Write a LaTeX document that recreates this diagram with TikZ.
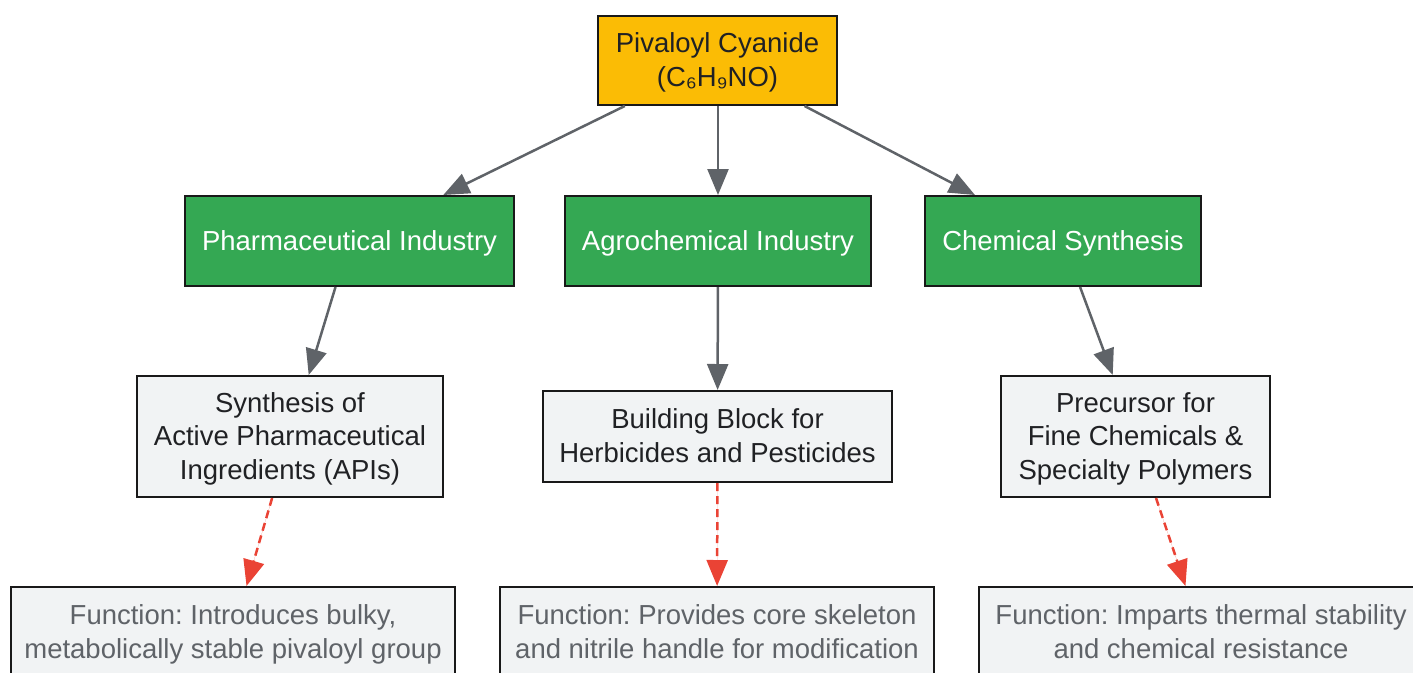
\documentclass[tikz,border=0pt]{standalone}
\usepackage{fontspec}
\setmainfont{Liberation Sans}
\frenchspacing
\usetikzlibrary{arrows.meta}
\definecolor{topfill}{HTML}{FBBC05}
\definecolor{greenfill}{HTML}{34A853}
\definecolor{grayfill}{HTML}{F1F3F4}
\definecolor{darktext}{HTML}{202124}
\definecolor{graytext}{HTML}{5F6368}
\definecolor{edgegray}{HTML}{5F6368}
\definecolor{edgered}{HTML}{EA4335}
\tikzset{
  box/.style={draw=black!90, line width=2pt, inner sep=0pt},
  lbl/.style={align=center, inner sep=0pt, yshift=-2.5pt,
    font=\frenchspacing\fontsize{27.5}{33.5}\selectfont},
  topbox/.style={box, fill=topfill, label={[lbl, text=darktext]center:{\strut#1\strut}}},
  greenbox/.style={box, fill=greenfill, label={[lbl, text=white]center:{\strut#1\strut}}},
  graybox/.style={box, fill=grayfill, label={[lbl, text=darktext]center:{\strut#1\strut}}},
  funcbox/.style={box, fill=grayfill, label={[lbl, text=graytext]center:{\strut#1\strut}}},
  solidedge/.style={draw=edgegray, line width=2.5pt, -{Triangle[length=26pt,width=21pt]}, fill=edgegray},
  dashedge/.style={draw=edgered, line width=2.5pt, dash pattern=on 8pt off 5pt, -{Triangle[length=26pt,width=21pt]}, fill=edgered},
}
\begin{document}
\begin{tikzpicture}[x=1pt,y=-1pt]
\path[use as bounding box] (0,0) rectangle (1413,672);
\clip (0,0) rectangle (1413,672);
\node[topbox={Pivaloyl Cyanide\\(C₆H₉NO)}, minimum width=239pt, minimum height=89pt] (top) at (717.5,60.5) {};
\node[greenbox={Pharmaceutical Industry}, minimum width=329pt, minimum height=90pt] (pharm) at (349.5,241) {};
\node[greenbox={Agrochemical Industry}, minimum width=306pt, minimum height=90pt] (agro) at (718,241) {};
\node[greenbox={Chemical Synthesis}, minimum width=276pt, minimum height=90pt] (chem) at (1063,241) {};
\node[graybox={Synthesis of\\Active Pharmaceutical\\Ingredients (APIs)}, minimum width=306pt, minimum height=121pt] (api) at (290,436.5) {};
\node[graybox={Building Block for\\Herbicides and Pesticides}, minimum width=349pt, minimum height=91pt] (block) at (717.5,436.5) {};
\node[graybox={Precursor for\\Fine Chemicals \&\\Specialty Polymers}, minimum width=269pt, minimum height=121pt] (prec) at (1135.5,436.5) {};
\node[funcbox={Function: Introduces bulky,\\metabolically stable pivaloyl group}, minimum width=444pt, minimum height=91pt] (f1) at (233,632.5) {};
\node[funcbox={Function: Provides core skeleton\\and nitrile handle for modification}, minimum width=434pt, minimum height=91pt] (f2) at (717,632.5) {};
\node[funcbox={Function: Imparts thermal stability\\and chemical resistance}, minimum width=444pt, minimum height=91pt] (f3) at (1201,632.5) {};
\draw[solidedge] (top) -- (pharm);
\draw[solidedge] (top.south -| agro) -- (agro);
\draw[solidedge] (top) -- (chem);
\draw[solidedge] (pharm) -- (api);
\draw[solidedge] (agro) -- (block);
\draw[solidedge] (chem) -- (prec);
\draw[dashedge] (api) -- (f1);
\draw[dashedge] (block) -- (f2);
\draw[dashedge] (prec) -- (f3);
\end{tikzpicture}
\end{document}
